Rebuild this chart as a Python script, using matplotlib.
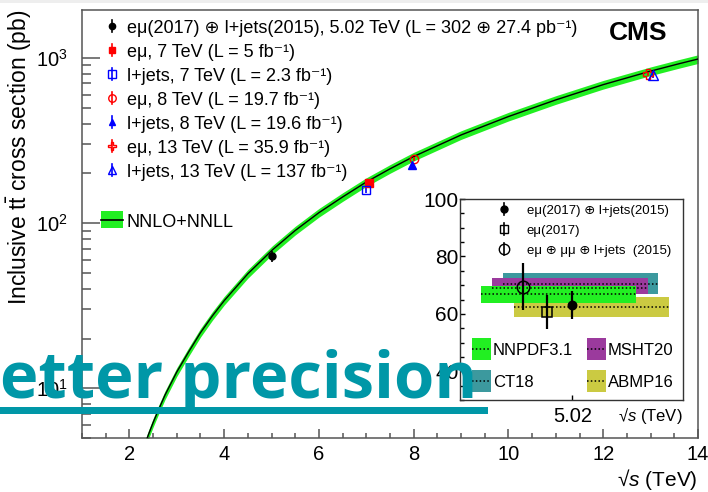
import matplotlib.pyplot as plt
from matplotlib.patches import Rectangle
from matplotlib.ticker import MultipleLocator, LogLocator, NullFormatter

plt.rcParams['font.family'] = ['Liberation Sans', 'DejaVu Sans']
plt.rcParams['mathtext.fontset'] = 'custom'
plt.rcParams['mathtext.rm'] = 'Liberation Sans'
plt.rcParams['mathtext.it'] = 'Liberation Sans:italic'
plt.rcParams['mathtext.bf'] = 'Liberation Sans:bold'

# NNLO+NNLL prediction
theory_sqrt_s = [2.3, 2.4, 2.5, 2.6, 2.75, 3.0, 3.25, 3.5, 3.75, 4.0, 4.5, 5.02, 5.5, 6.0,
                 6.5, 7.0, 7.5, 8.0, 9.0, 10.0, 11.0, 12.0, 13.0, 13.6, 14.0]
theory_xsec = [4.32, 5.22, 6.19, 7.24, 9.07, 12.55, 16.6, 21.7, 27.4, 33.9, 49.35, 68.9, 90.2, 115.6,
               143.9, 177.3, 213.0, 252.9, 341.6, 441.6, 557.0, 689.0, 831.8, 922.0, 984.5]
theory_rel_unc = 0.06

# measurements (main panel)
meas_labels = [
    'eμ(2017) ⊕ l+jets(2015), 5.02 TeV (L = 302 ⊕ 27.4 pb⁻¹)',
    'eμ, 7 TeV (L = 5 fb⁻¹)',
    'l+jets, 7 TeV (L = 2.3 fb⁻¹)',
    'eμ, 8 TeV (L = 19.7 fb⁻¹)',
    'l+jets, 8 TeV (L = 19.6 fb⁻¹)',
    'eμ, 13 TeV (L = 35.9 fb⁻¹)',
    'l+jets, 13 TeV (L = 137 fb⁻¹)',
]
meas_sqrt_s = [5.02, 7.05, 7.0, 8.0, 7.96, 12.94, 13.06]
meas_xsec = [63.0, 174.0, 158.0, 244.0, 224.0, 800.0, 785.0]
meas_err = [4.8, 7.0, 6.5, 8.0, 9.0, 26.0, 30.0]

# inset: 5.02 TeV results and PDF predictions
inset_labels = ['eμ(2017) ⊕ l+jets(2015)', 'eμ(2017)', 'eμ ⊕ μμ ⊕ l+jets  (2015)']
inset_xsec = [63.0, 60.7, 69.5]
inset_err = [4.8, 5.9, 8.2]

pdf_names = ['CT18', 'MSHT20', 'ABMP16', 'NNPDF3.1']
pdf_central = [70.3, 68.9, 62.3, 66.8]
pdf_low = [66.9, 66.8, 58.8, 63.7]
pdf_high = [74.3, 72.5, 65.8, 69.8]

# styles
meas_markers = ['o', 's', 's', 'o', '^', 'P', '^']
meas_colors = ['black', 'red', 'blue', 'red', 'blue', 'red', 'blue']
meas_filled = [True, True, False, False, True, False, False]
meas_ms = [5, 5.5, 6, 6, 5.5, 6.5, 7]
pdf_colors = {'CT18': '#3c999e', 'MSHT20': '#9b3a9d', 'ABMP16': '#cbca42', 'NNPDF3.1': '#22ef22'}
pdf_xrange = {'CT18': (0.193, 0.888), 'MSHT20': (0.143, 0.843),
              'ABMP16': (0.242, 0.937), 'NNPDF3.1': (0.094, 0.789)}
inset_x = [0.504, 0.392, 0.282]
inset_markers = ['o', 's', 'o']
inset_filled = [True, False, False]
inset_ms = [6, 6.5, 9]

W, H = 708, 492
fig = plt.figure(figsize=(W / 100, H / 100), dpi=100)
fig.patch.set_facecolor('white')

# ---------------- main panel ----------------
ax = fig.add_axes([82 / W, 1 - 438 / H, 616 / W, 428 / H])
ax.set_yscale('log')
ax.set_xlim(1, 14)
ax.set_ylim(5, 1950)

band_lo = [v * (1 - theory_rel_unc) for v in theory_xsec]
band_hi = [v * (1 + theory_rel_unc) for v in theory_xsec]
ax.fill_between(theory_sqrt_s, band_lo, band_hi, color='#22ef22', lw=0, zorder=2)
ax.plot(theory_sqrt_s, theory_xsec, color='black', lw=1.0, zorder=3)

for i in range(len(meas_xsec)):
    fc = meas_colors[i] if meas_filled[i] else 'none'
    ax.errorbar(meas_sqrt_s[i], meas_xsec[i], yerr=meas_err[i], fmt=meas_markers[i],
                color=meas_colors[i], mfc=fc, mec=meas_colors[i], ms=meas_ms[i],
                mew=1.0, elinewidth=1.2, capsize=0, zorder=4)

ax.xaxis.set_major_locator(MultipleLocator(2))
ax.xaxis.set_minor_locator(MultipleLocator(0.5))
ax.yaxis.set_minor_locator(LogLocator(base=10, subs=range(2, 10)))
ax.yaxis.set_minor_formatter(NullFormatter())
ax.tick_params(which='both', direction='in', top=False, right=False,
               color='#555555', labelsize=14.5, width=1.1)
ax.tick_params(axis='y', which='major', length=13, pad=10)
ax.tick_params(axis='y', which='minor', length=6.5)
ax.tick_params(axis='x', which='major', length=6.5, pad=5)
ax.tick_params(axis='x', which='minor', length=3.6)
for s in ax.spines.values():
    s.set_color('#555555')
    s.set_linewidth(1.1)

ax.set_ylabel('Inclusive t$\\bar{\\mathrm{t}}$ cross section (pb)', fontsize=16.5, loc='top')
ax.yaxis.set_label_coords(-0.078, 1.0)
ax.set_xlabel('√$s$ (TeV)', fontsize=15, loc='right')
ax.xaxis.set_label_coords(1.0, -0.068)

ax.text(0.951, 0.946, 'CMS', transform=ax.transAxes, ha='right', va='center',
        fontsize=19, fontweight='bold')

# legend of main panel
leg_y0 = 0.9626
leg_dy = 0.0561
for i, label in enumerate(meas_labels):
    y = leg_y0 - i * leg_dy
    fc = meas_colors[i] if meas_filled[i] else 'none'
    ax.plot([0.0487, 0.0487], [y - 0.014, y + 0.014], transform=ax.transAxes,
            color=meas_colors[i], lw=1.2, clip_on=False)
    ax.plot(0.0487, y, meas_markers[i], transform=ax.transAxes, color=meas_colors[i],
            mfc=fc, mec=meas_colors[i], ms=meas_ms[i] * 0.9, mew=1.0, clip_on=False)
    ax.text(0.073, y, label, transform=ax.transAxes, ha='left', va='center_baseline', fontsize=13)

ax.add_patch(Rectangle((0.0308, 0.4907), 0.0358, 0.0393, transform=ax.transAxes,
                       facecolor='#22ef22', edgecolor='none'))
ax.plot([0.0308, 0.0666], [0.5105, 0.5105], transform=ax.transAxes, color='black', lw=1.2)
ax.text(0.073, 0.5093, 'NNLO+NNLL', transform=ax.transAxes, ha='left',
        va='center_baseline', fontsize=13)

# ---------------- inset ----------------
ax_in = fig.add_axes([460 / W, 1 - 400 / H, 223 / W, 201 / H])
ax_in.set_xlim(0, 1)
ax_in.set_ylim(30, 100)

for name, c, lo, hi in zip(pdf_names, pdf_central, pdf_low, pdf_high):
    x0, x1 = pdf_xrange[name]
    ax_in.fill_between([x0, x1], [lo, lo], [hi, hi], color=pdf_colors[name], lw=0)
    ax_in.plot([x0, x1], [c, c], color='black', ls=(0, (1, 1.5)), lw=1.1)

for i in range(len(inset_xsec)):
    fc = 'black' if inset_filled[i] else 'none'
    ax_in.errorbar(inset_x[i], inset_xsec[i], yerr=inset_err[i], fmt=inset_markers[i],
                   color='black', mfc=fc, mec='black', ms=inset_ms[i], mew=1.1,
                   elinewidth=1.6, capsize=0, zorder=5)

ax_in.yaxis.set_major_locator(MultipleLocator(20))
ax_in.yaxis.set_minor_locator(MultipleLocator(5))
ax_in.set_xticks([0.504])
ax_in.set_xticklabels(['5.02'])
ax_in.tick_params(which='both', direction='in', top=False, right=False, labelsize=15, width=1.0)
ax_in.tick_params(axis='y', which='major', length=3.6, pad=1)
ax_in.tick_params(axis='y', which='minor', length=2.9)
ax_in.tick_params(axis='x', which='major', length=3.6, pad=5, labelsize=14.5)
for s in ax_in.spines.values():
    s.set_color('#333333')
    s.set_linewidth(1.0)
ax_in.text(1.0, -0.075, '√$s$ (TeV)', transform=ax_in.transAxes, ha='right',
           va='center', fontsize=12)

# inset legend: measurements
for i, label in enumerate(inset_labels):
    y = 0.950 - i * 0.0995
    fc = 'black' if inset_filled[i] else 'none'
    ax_in.plot([0.197, 0.197], [y - 0.03, y + 0.03], transform=ax_in.transAxes,
               color='black', lw=1.2)
    ax_in.plot(0.197, y, inset_markers[i], transform=ax_in.transAxes, color='black',
               mfc=fc, mec='black', ms=[5, 5.5, 7.5][i], mew=1.0)
    ax_in.text(0.30, y, label, transform=ax_in.transAxes, ha='left',
               va='center_baseline', fontsize=9.5)

# inset legend: PDF sets
pdf_leg_pos = {'NNPDF3.1': (0.054, 0.254), 'MSHT20': (0.570, 0.254),
               'CT18': (0.054, 0.095), 'ABMP16': (0.570, 0.095)}
for name in pdf_names:
    bx, by = pdf_leg_pos[name]
    ax_in.add_patch(Rectangle((bx, by - 0.056), 0.084, 0.112, transform=ax_in.transAxes,
                              facecolor=pdf_colors[name], edgecolor='none'))
    ax_in.plot([bx, bx + 0.084], [by, by], transform=ax_in.transAxes, color='black',
               ls=(0, (1, 1.5)), lw=1.1)
    ax_in.text(bx + 0.094, by, name, transform=ax_in.transAxes, ha='left',
               va='center_baseline', fontsize=12)

# ---------------- slide overlay ----------------
teal = '#0097a7'
fig.patches.append(Rectangle((0, 1 - 3 / H), 1, 3 / H, transform=fig.transFigure,
                             facecolor='#eeeeee', edgecolor='none'))
fig.patches.append(Rectangle((0, 1 - 414 / H), 488 / W, 7 / H, transform=fig.transFigure,
                             facecolor=teal, edgecolor='none', zorder=5))
fig.text(0, 1 - 398 / H, 'etter precision', fontsize=47, fontweight='bold',
         family='Open Sans', color=teal, ha='left', va='baseline', zorder=6)

fig.savefig('out.png', dpi=100)
